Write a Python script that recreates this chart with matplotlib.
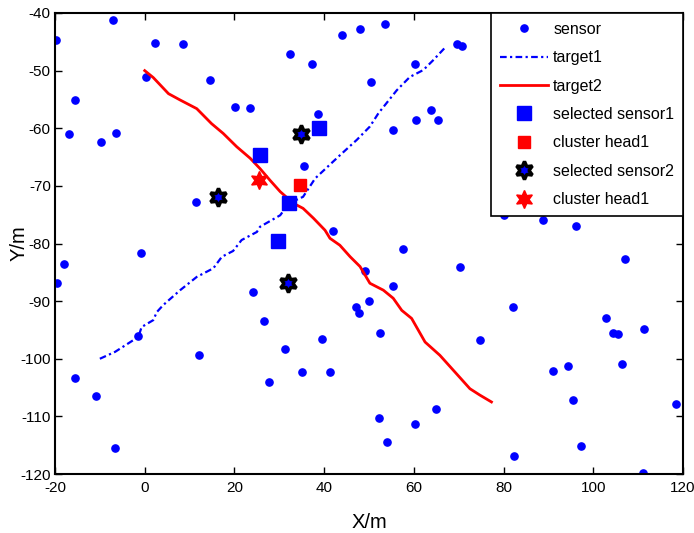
import matplotlib
matplotlib.use("Agg")
import matplotlib.pyplot as plt

plt.rcParams['font.family'] = ['Liberation Sans', 'DejaVu Sans']
plt.rcParams['axes.unicode_minus'] = False

# sensor positions
sensor_x = [-19.8, -7.1, 2.3, 8.5, -15.5, -16.9, -9.7, -6.4, 0.3, 14.6, 20.1, 23.5, 11.4,
            32.3, 37.4, 43.9, 47.9, 53.6, 69.7, 70.8, 60.2, 50.4, 38.7, 63.8, 60.5, 65.4,
            55.4, 35.5, 42.0, -0.8, -18.0, -19.6, -1.4, 24.2, 26.7, 12.2, -15.6, -10.9,
            -6.6, 27.7, 57.6, 70.3, 49.0, 55.4, 50.1, 47.1, 47.7, 52.5, 39.5, 31.2, 35.0,
            41.2, 74.8, 64.9, 52.2, 60.2, 54.1, 80.2, 88.8, 96.1, 107.1, 82.0, 102.8,
            104.5, 105.5, 111.4, 91.0, 94.4, 106.3, 95.5, 118.4, 97.2, 82.3, 111.1]
sensor_y = [-44.7, -41.2, -45.2, -45.4, -55.1, -61.0, -62.4, -60.8, -51.1, -51.6, -56.3,
            -56.5, -72.8, -47.1, -48.9, -43.9, -42.7, -41.9, -45.4, -45.8, -48.9, -52.0,
            -57.5, -56.9, -58.5, -58.5, -60.3, -66.6, -77.8, -81.7, -83.5, -86.9, -96.0,
            -88.4, -93.4, -99.4, -103.3, -106.4, -115.5, -104.1, -80.9, -84.0, -84.7,
            -87.4, -89.9, -91.0, -92.1, -95.5, -96.5, -98.3, -102.3, -102.3, -96.8,
            -108.8, -110.3, -111.3, -114.5, -75.1, -76.0, -77.0, -82.7, -91.0, -92.9,
            -95.5, -95.7, -94.9, -102.2, -101.2, -100.9, -107.2, -107.9, -115.2, -116.8,
            -119.9]

# target trajectories
t1_x = [-10.0, -6.6, -1.4, -0.7, 1.9, 2.7, 4.1, 7.9, 11.6, 15.3, 17.2, 19.7, 21.6, 25.0,
        25.7, 30.2, 32.2, 35.3, 38.0, 43.5, 47.3, 50.2, 52.1, 56.2, 59.1, 62.1, 64.3, 67.2]
t1_y = [-100.0, -98.8, -96.2, -94.5, -93.3, -91.9, -90.7, -88.1, -85.8, -84.3, -82.3,
        -81.3, -79.4, -78.0, -77.1, -75.1, -73.0, -71.9, -68.7, -64.7, -62.0, -59.7,
        -57.4, -53.4, -51.1, -49.9, -48.2, -45.8]
t2_x = [0.0, 1.9, 5.3, 7.9, 11.6, 14.9, 17.5, 20.5, 23.5, 25.7, 27.9, 30.2, 33.1, 35.3,
        37.6, 40.2, 41.3, 43.5, 45.8, 48.0, 50.2, 53.2, 55.4, 57.3, 59.5, 62.5, 65.8,
        69.5, 72.5, 74.7, 77.3]
t2_y = [-50.0, -51.2, -54.0, -55.1, -56.6, -59.2, -60.9, -63.2, -65.2, -67.0, -69.0,
        -71.0, -73.0, -73.9, -75.6, -77.7, -79.1, -80.3, -82.3, -84.0, -86.9, -88.1,
        -89.5, -91.6, -93.0, -97.1, -99.4, -102.6, -105.2, -106.3, -107.5]

sel1_x = [25.8, 38.9, 32.2, 29.8]
sel1_y = [-64.7, -60.0, -72.9, -79.6]
head1_x = [34.6]
head1_y = [-69.9]
sel2_x = [16.4, 34.9, 32.0]
sel2_y = [-71.9, -61.0, -86.8]
head2_x = [25.5]
head2_y = [-69.0]

xticks = [-20, 0, 20, 40, 60, 80, 100, 120]
yticks = [-40, -50, -60, -70, -80, -90, -100, -110, -120]

fig = plt.figure(figsize=(6.94, 5.33), dpi=100)
ax = fig.add_axes([55/694, 1 - 474/533, 628/694, 461/533])

hexa = (6, 1, 0)
ax.plot(sensor_x, sensor_y, 'o', color='blue', markersize=5.2, label='sensor')
ax.plot(t1_x, t1_y, '-.', color='blue', linewidth=1.6, dashes=(3, 1.5, 1, 1.5), label='target1')
ax.plot(t2_x, t2_y, '-', color='red', linewidth=2, label='target2')
ax.plot(sel1_x, sel1_y, 's', color='blue', markersize=10, label='selected sensor1')
ax.plot(head1_x, head1_y, 's', color='red', markersize=8.5, label='cluster head1')
ax.plot(sel2_x, sel2_y, linestyle='none', marker=hexa, markersize=13, markerfacecolor='blue',
        markeredgecolor='black', markeredgewidth=2.5, label='selected sensor2')
ax.plot(head2_x, head2_y, linestyle='none', marker=hexa, markersize=13, color='red',
        label='cluster head1')

ax.set_xlim(-20, 120)
ax.set_ylim(-120, -40)
ax.set_xticks(xticks)
ax.set_yticks(yticks)
ax.tick_params(direction='in', top=True, right=True, labelsize=11, length=5, width=1)
ax.tick_params(axis='x', pad=5)
ax.tick_params(axis='y', pad=3)
for s in ax.spines.values():
    s.set_linewidth(1.5)
ax.set_xlabel('X/m', fontsize=14.5, labelpad=13)
ax.set_ylabel('Y/m', fontsize=14.5)
ax.yaxis.set_label_coords(-0.042, 0.5)

leg = ax.legend(loc='upper right', borderaxespad=0, fancybox=False, framealpha=1,
                edgecolor='black', fontsize=11.5, handlelength=3.0, labelspacing=0.84,
                borderpad=0.55, handletextpad=0.35)
leg.get_frame().set_linewidth(1.2)

fig.savefig('out.png', dpi=100)
